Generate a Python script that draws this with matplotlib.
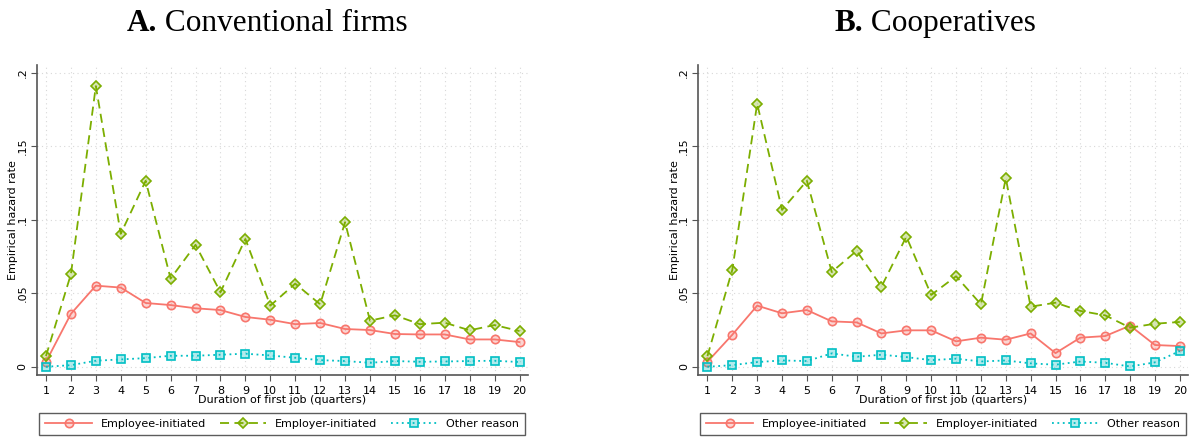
import matplotlib
matplotlib.use("Agg")
import matplotlib.pyplot as plt

# quarters 1..20
quarters = list(range(1, 21))

# A. conventional firms
conv_employee = [0.0034, 0.036, 0.0552, 0.0539, 0.0434, 0.042, 0.0398, 0.0386, 0.0339, 0.032,
                 0.029, 0.0298, 0.0257, 0.025, 0.0223, 0.022, 0.022, 0.0186, 0.0186, 0.0168]
conv_employer = [0.0073, 0.063, 0.191, 0.0905, 0.1266, 0.060, 0.083, 0.0507, 0.087, 0.0416,
                 0.0566, 0.0425, 0.0984, 0.0314, 0.035, 0.029, 0.030, 0.0248, 0.0284, 0.0243]
conv_other = [0.0, 0.0011, 0.0041, 0.005, 0.0059, 0.0075, 0.0075, 0.0082, 0.0089, 0.0077,
              0.0061, 0.0045, 0.0039, 0.0027, 0.0039, 0.0034, 0.0036, 0.0039, 0.0041, 0.0032]

# B. cooperatives
coop_employee = [0.0034, 0.0218, 0.0416, 0.0364, 0.0386, 0.0309, 0.0302, 0.0227, 0.0248, 0.0248,
                 0.0173, 0.0198, 0.0184, 0.0227, 0.0093, 0.0198, 0.0209, 0.028, 0.0148, 0.0141]
coop_employer = [0.0073, 0.066, 0.179, 0.1068, 0.1266, 0.0645, 0.0789, 0.0545, 0.0886, 0.0489,
                 0.0616, 0.0425, 0.1284, 0.0409, 0.0436, 0.038, 0.035, 0.0266, 0.0293, 0.0305]
coop_other = [0.0, 0.0011, 0.0032, 0.0043, 0.0039, 0.0091, 0.0068, 0.0082, 0.0066, 0.0045,
              0.0055, 0.0036, 0.0043, 0.0023, 0.0014, 0.0036, 0.0027, 0.0002, 0.003, 0.0107]

yticks = [0, 0.05, 0.1, 0.15, 0.2]
ytick_labels = ["0", ".05", ".1", ".15", ".2"]
series_names = ["Employee-initiated", "Employer-initiated", "Other reason"]

red = "#F8766D"
green = "#7CAE00"
cyan = "#00BFC4"

fig = plt.figure(figsize=(11.94, 4.41), dpi=100)
ax1 = fig.add_axes([0.031, 0.150, 0.411, 0.703])
ax2 = fig.add_axes([0.585, 0.150, 0.410, 0.703])


def draw(ax, emp, empr, oth):
    h1, = ax.plot(quarters, emp, color=red, lw=1.3, ls="-", marker="o", ms=6,
                  mfc=(0.973, 0.463, 0.427, 0.3), mec=red, mew=1.2)
    h2, = ax.plot(quarters, empr, color=green, lw=1.3, ls=(0, (5, 3)), marker="D", ms=5.5,
                  mfc=(0.486, 0.682, 0.0, 0.3), mec=green, mew=1.2)
    h3, = ax.plot(quarters, oth, color=cyan, lw=1.3, ls=(0, (1, 2)), marker="s", ms=5.5,
                  mfc=(0.0, 0.749, 0.769, 0.3), mec=cyan, mew=1.2)
    ax.set_xlim(0.64, 20.33)
    ax.set_ylim(-0.0055, 0.2055)
    ax.set_xticks(quarters)
    ax.set_yticks(yticks)
    ax.set_yticklabels(ytick_labels, rotation=90, va="center")
    ax.tick_params(axis="both", labelsize=8, length=4, color="#555555")
    ax.tick_params(axis="x", pad=4)
    ax.tick_params(axis="y", pad=3)
    ax.grid(True, ls=(0, (1, 3)), color="#d8d8d8", lw=0.8)
    for s in ["top", "right"]:
        ax.spines[s].set_visible(False)
    for s in ["left", "bottom"]:
        ax.spines[s].set_color("#555555")
        ax.spines[s].set_linewidth(1.2)
    ax.set_ylabel("Empirical hazard rate", fontsize=8)
    ax.yaxis.set_label_coords(-0.038, 0.5)
    ax.set_xlabel("Duration of first job (quarters)", fontsize=8, labelpad=-1)
    leg = ax.legend([h1, h2, h3], series_names, loc="upper center",
                    bbox_to_anchor=(0.5, -0.1226), borderaxespad=0, ncol=3, fontsize=8,
                    frameon=True, fancybox=False, edgecolor="#333333", handlelength=4.2,
                    handletextpad=0.8, columnspacing=1.2, borderpad=0.55)
    leg.get_frame().set_linewidth(1.0)


draw(ax1, conv_employee, conv_employer, conv_other)
draw(ax2, coop_employee, coop_employer, coop_other)

# titles: bold letter + regular text, centred by hand
renderer = fig.canvas.get_renderer()
for cx, letter, rest in [(267, "A.", "Conventional firms"), (935, "B.", "Cooperatives")]:
    t1 = fig.text(0, 1 - 31 / 441, letter, fontsize=22.5, family="Liberation Serif",
                  weight="bold", va="baseline")
    t2 = fig.text(0, 1 - 31 / 441, " " + rest, fontsize=22.5, family="Liberation Serif",
                  va="baseline")
    w1 = t1.get_window_extent(renderer).width
    w2 = t2.get_window_extent(renderer).width
    x0 = cx - (w1 + w2) / 2
    t1.set_x(x0 / 1194)
    t2.set_x((x0 + w1) / 1194)

fig.savefig("out.png", dpi=100)
